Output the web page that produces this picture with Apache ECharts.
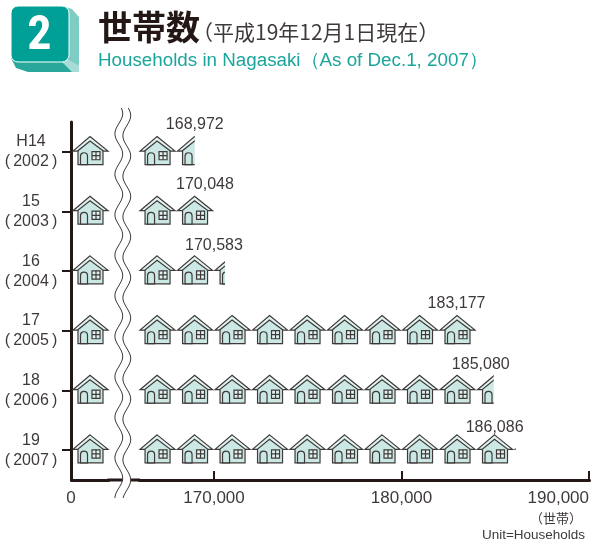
<!DOCTYPE html>
<html>
<head>
<meta charset="utf-8">
<title>世帯数</title>
<style>
  html, body { margin: 0; padding: 0; background: #fff; }
  #chart { width: 606px; height: 543px; }
</style>
<script src="https://cdn.jsdelivr.net/npm/echarts@6/dist/echarts.min.js"></script>
</head>
<body>
<div id="chart"></div>
<script>
var years = ['H14\n(\u20092002\u2009)', '15\n(\u20092003\u2009)', '16\n(\u20092004\u2009)', '17\n(\u20092005\u2009)', '18\n(\u20092006\u2009)', '19\n(\u20092007\u2009)']
var households = [168972, 170048, 170583, 183177, 185080, 186086]
// where the row of houses stops in the picture (2005 is drawn with a whole 9th house)
var houseEnds = [168972, 170048, 170583, 184000, 184920, 186086]
var tickValues = [0, 170000, 180000, 190000]
var axisBreak = [2000, 166000]

var HOUSE_UNIT = 2000
var HOUSE_BASE = 166053
var DARK = '#3e3a39'
var AXIS = '#231815'
var WALL = '#cbe8e5'
var FONT = '"Liberation Sans", sans-serif'
var JP = '"Noto Sans CJK JP", sans-serif'
// label shift from the end of the row, px
var labelShift = [[0, -27], [-10, -27], [-11, -26], [-20, -27], [-13, -26], [-21, -23]]

function line (pts) {
  return { type: 'polyline', shape: { points: pts }, style: { fill: null, stroke: DARK, lineWidth: 1.2 } }
}

function house (x, y) {
  return {
    type: 'group',
    x: x,
    y: y,
    children: [
      { type: 'polygon', shape: { points: [[17, -11], [5, -3], [5, 12.7], [30, 12.7], [30, -3]] }, style: { fill: WALL } },
      { type: 'polygon', shape: { points: [[17, -15.3], [35, -0.8], [30.5, -0.8], [17, -10.8], [4.5, -0.8], [0, -0.8]] }, style: { fill: '#e2f2f0', stroke: DARK, lineWidth: 1.2 } },
      line([[5, -1], [5, 12.7], [30, 12.7], [30, -1]]),
      { type: 'rect', shape: { x: 7.5, y: 0.9, width: 7, height: 11.8, r: [3.5, 3.5, 0, 0] }, style: { fill: WALL, stroke: DARK, lineWidth: 1.2 } },
      { type: 'rect', shape: { x: 19, y: -0.3, width: 8, height: 8.2 }, style: { fill: '#e2f2f0', stroke: DARK, lineWidth: 1.2 } },
      line([[23, -0.3], [23, 7.9]]),
      line([[19, 3.8], [27, 3.8]])
    ]
  }
}

function renderRow (params, api) {
  var idx = api.value(0)
  var end = api.coord([api.value(1), idx])
  var yc = end[1]
  var homes = [house(api.coord([0, idx])[0] + 2, yc)]
  for (var v = HOUSE_BASE; v < api.value(1); v += HOUSE_UNIT) {
    homes.push(house(api.coord([v, idx])[0], yc))
  }
  var shift = labelShift[params.dataIndex]
  return {
    type: 'group',
    children: [
      {
        type: 'group',
        clipPath: { type: 'rect', shape: { x: 0, y: yc - 29, width: end[0], height: 58 } },
        children: homes
      },
      {
        type: 'text',
        x: end[0] + shift[0],
        y: yc + shift[1],
        style: {
          text: echarts.format.addCommas(api.value(2)),
          fill: DARK,
          font: '16px ' + FONT,
          textAlign: 'center',
          textVerticalAlign: 'middle'
        }
      }
    ]
  }
}

// axis line across the break, the wave cuts it
function renderGapLine (params, api) {
  var x0 = api.coord([axisBreak[0], 0])[0] - 1
  var x1 = api.coord([axisBreak[1], 0])[0] + 1
  var bottom = params.coordSys.y + params.coordSys.height
  return {
    type: 'rect',
    shape: { x: x0, y: bottom - 1.5, width: x1 - x0, height: 3 },
    style: { fill: AXIS }
  }
}

// the wavy break mark, purely decorative
function wave (cx, phase) {
  var pts = []
  for (var y = 108; y <= 498; y += 2) {
    pts.push([cx + 3.9 * Math.cos((y - phase) / 40.5 * 2 * Math.PI), y])
  }
  return pts
}

function waveEl (cx, phase, stroke, width) {
  return {
    type: 'polyline',
    z: 100,
    shape: { points: wave(cx, phase) },
    style: { fill: null, stroke: stroke, lineWidth: width }
  }
}

var chart = echarts.init(document.getElementById('chart'))
chart.setOption({
  animation: false,
  grid: { left: 71, right: 17, top: 122, bottom: 63 },
  xAxis: {
    type: 'value',
    min: 0,
    max: 190000,
    breaks: [{ start: axisBreak[0], end: axisBreak[1], gap: '5.9%' }],
    breakArea: { show: false },
    splitLine: { show: false },
    axisLine: { show: true, lineStyle: { color: AXIS, width: 3 } },
    axisTick: { show: true, inside: true, length: 9, customValues: tickValues, lineStyle: { color: AXIS, width: 2 } },
    axisLabel: {
      customValues: tickValues,
      margin: 10,
      color: DARK,
      fontFamily: FONT,
      fontSize: 17,
      alignMaxLabel: 'right',
      formatter: function (v) { return echarts.format.addCommas(v) }
    }
  },
  yAxis: {
    type: 'category',
    inverse: true,
    data: years,
    splitLine: { show: false },
    axisLine: { show: true, lineStyle: { color: AXIS, width: 3 } },
    axisTick: { show: true, alignWithLabel: true, length: 9, lineStyle: { color: AXIS, width: 2 } },
    axisLabel: {
      margin: 40,
      align: 'center',
      color: DARK,
      fontFamily: FONT,
      fontSize: 16,
      lineHeight: 20,
      padding: [5, 0, 0, 0]
    }
  },
  series: [{
    type: 'custom',
    clip: false,
    renderItem: renderRow,
    encode: { x: 1, y: 0 },
    data: houseEnds.map(function (v, i) { return [i, v, households[i]] })
  }, {
    type: 'custom',
    clip: false,
    renderItem: renderGapLine,
    encode: { x: 0, y: 1 },
    data: [[0, 0]]
  }],
  graphic: [
    // header badge
    { type: 'polygon', shape: { points: [[62, 6], [72, 9], [79, 17], [79, 66], [68, 61]] }, style: { fill: '#7dcdc5' } },
    { type: 'polygon', shape: { points: [[11, 58], [16, 68], [28, 72], [72, 72], [68, 61]] }, style: { fill: '#2aa79b' } },
    { type: 'polygon', shape: { points: [[62, 62], [69, 60], [79, 66], [79, 72], [72, 72]] }, style: { fill: '#a8dcd7' } },
    { type: 'rect', shape: { x: 11, y: 6, width: 58, height: 56, r: 7 }, style: { fill: '#00a096', stroke: '#ffffff', lineWidth: 1 } },
    { type: 'text', x: 39.5, y: 37, style: { text: '2', fill: '#fff', font: 'bold 48px "Liberation Sans Narrow", "Roboto Condensed", ' + FONT, textAlign: 'center', textVerticalAlign: 'middle' } },
    // titles
    { type: 'text', x: 98, y: 27, style: { text: '世帯数', fill: AXIS, font: 'bold 34px ' + JP, textVerticalAlign: 'middle' } },
    { type: 'text', x: 192, y: 32, style: { text: '（平成19年12月1日現在）', fill: DARK, font: '21px ' + JP, textVerticalAlign: 'middle' } },
    { type: 'text', x: 98, y: 61, style: { text: 'Households in Nagasaki（As of Dec.1, 2007）', fill: '#1ba59b', font: '18.8px ' + FONT, textVerticalAlign: 'middle' } },
    // unit
    { type: 'text', x: 556, y: 518, style: { text: '（世帯）', fill: DARK, font: '13px ' + JP, textAlign: 'center', textVerticalAlign: 'middle' } },
    { type: 'text', x: 533.5, y: 535, style: { text: 'Unit=Households', fill: DARK, font: '13.5px ' + FONT, textAlign: 'center', textVerticalAlign: 'middle' } },
    // axis break
    waveEl(123, 155, '#fff', 8),
    waveEl(118.8, 154, DARK, 1),
    waveEl(126.8, 156, DARK, 1)
  ]
})
</script>
</body>
</html>
